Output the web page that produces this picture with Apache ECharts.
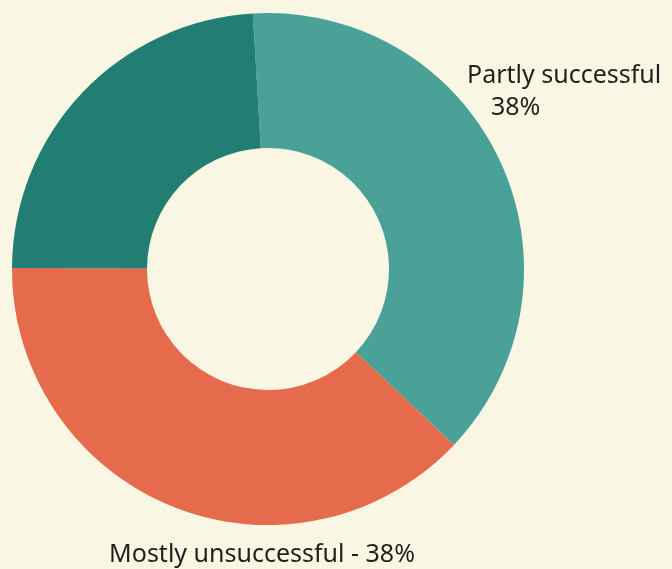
<!DOCTYPE html>
<html>
<head>
<meta charset="utf-8">
<script src="https://cdn.jsdelivr.net/npm/echarts@6/dist/echarts.min.js"></script>
<style>
  html, body { margin: 0; padding: 0; background: #f9f6e4; }
  #chart { width: 672px; height: 569px; }
</style>
</head>
<body>
<div id="chart"></div>
<script>
const categories = ['Partly successful', 'Mostly unsuccessful', 'Mostly successful']
const percents = [38, 38, 24]
const colors = ['#4aa198', '#e66b4c', '#227d72']

const data = categories.map((name, i) => ({
    name: name,
    value: percents[i],
    itemStyle: { color: colors[i] }
}))

const chart = echarts.init(document.getElementById('chart'))
const option = {
    backgroundColor: '#f9f6e4',
    animation: false,
    series: [{
        type: 'pie',
        center: [268, 269],
        radius: [121, 256],
        startAngle: 93.4,
        clockwise: true,
        data: data,
        labelLine: { show: false },
        label: {
            show: true,
            position: 'outside',
            overflow: 'none',
            color: '#231f20',
            fontFamily: 'Noto Sans',
            fontSize: 25,
            formatter: p => {
                if (p.dataIndex === 0) return '{a|' + p.name + '}\n{b|' + p.value + '%}'
                if (p.dataIndex === 1) return '{a|' + p.name + ' - ' + p.value + '%}'
                return ''
            },
            rich: {
                a: { fontFamily: 'Noto Sans', fontSize: 25, color: '#231f20', lineHeight: 32 },
                b: { fontFamily: 'Noto Sans', fontSize: 25, color: '#231f20', lineHeight: 32, padding: [0, 0, 0, 24] }
            }
        },
        labelLayout: p => {
            if (p.dataIndex === 0) return { x: 467, y: 92, align: 'left', verticalAlign: 'middle' }
            if (p.dataIndex === 1) return { x: 262, y: 555, align: 'center', verticalAlign: 'middle' }
            return {}
        }
    }]
}
chart.setOption(option)
window.addEventListener('resize', () => {
    chart.resize()
})
</script>
</body>
</html>
